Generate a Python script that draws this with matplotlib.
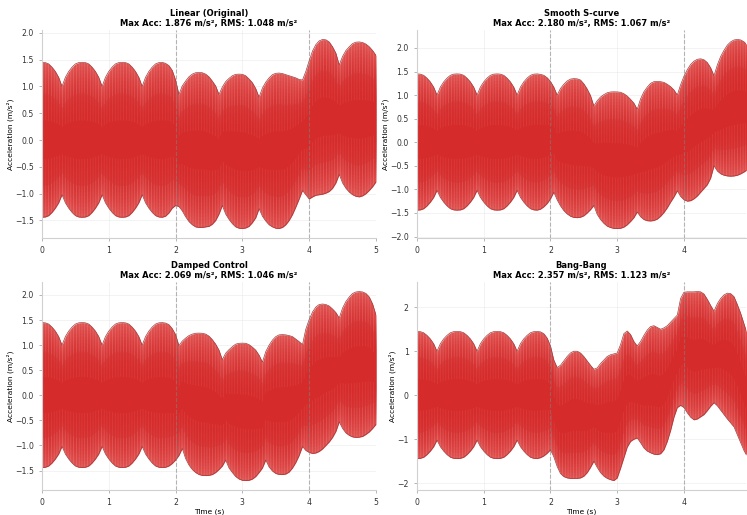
#!/usr/bin/env python3

import numpy as np
from matplotlib import pyplot as plt

# envelope of the acceleration signal (upper / lower bound), sampled every 0.05 s
# the first 1.8 s are the same for every profile
upper_start = [1.45, 1.445, 1.42, 1.36, 1.28, 1.17, 1.00, 1.17, 1.28, 1.36, 1.42, 1.445,
               1.45, 1.445, 1.42, 1.36, 1.28, 1.17, 1.00, 1.17, 1.28, 1.36, 1.42, 1.445,
               1.45, 1.445, 1.42, 1.36, 1.28, 1.17, 1.00, 1.17, 1.28, 1.36, 1.42, 1.445, 1.45]
lower_start = [-1.44, -1.435, -1.41, -1.35, -1.27, -1.17, -1.02, -1.17, -1.27, -1.35, -1.41, -1.435,
               -1.44, -1.435, -1.41, -1.35, -1.27, -1.17, -1.02, -1.17, -1.27, -1.35, -1.41, -1.435,
               -1.44, -1.435, -1.41, -1.35, -1.27, -1.17, -1.02, -1.17, -1.27, -1.35, -1.41, -1.435, -1.44]

# from 1.85 s on
linear_upper = [1.43, 1.39, 1.30, 1.12, 0.85,
                1.01, 1.10, 1.18, 1.23, 1.256, 1.26,
                1.256, 1.23, 1.18, 1.10, 1.01, 0.85,
                0.99, 1.09, 1.15, 1.20, 1.226, 1.23,
                1.226, 1.20, 1.14, 1.07, 0.96, 0.80,
                0.97, 1.08, 1.16, 1.22, 1.245, 1.25,
                1.24, 1.22, 1.20, 1.18, 1.16, 1.13, 1.12,
                1.28, 1.48, 1.66, 1.78, 1.85, 1.876,
                1.87, 1.83, 1.74, 1.62, 1.40,
                1.56, 1.67, 1.74, 1.80, 1.826, 1.83,
                1.82, 1.79, 1.74, 1.67, 1.58]
linear_lower = [-1.42, -1.36, -1.27, -1.22, -1.24,
                -1.32, -1.43, -1.52, -1.58, -1.62, -1.63,
                -1.63, -1.62, -1.61, -1.57, -1.50, -1.38, -1.22,
                -1.38, -1.48, -1.56, -1.62, -1.645, -1.65,
                -1.64, -1.61, -1.54, -1.45, -1.28,
                -1.42, -1.51, -1.58, -1.62, -1.645, -1.65,
                -1.63, -1.58, -1.50, -1.39, -1.25, -1.10, -0.94,
                -1.02, -1.10, -1.06, -1.03, -1.02, -1.01, -0.99, -0.96, -0.90, -0.80, -0.64,
                -0.80, -0.90, -0.97, -1.02, -1.05, -1.06,
                -1.04, -1.00, -0.94, -0.87, -0.78]

scurve_upper = [1.44, 1.42, 1.37, 1.29, 1.17, 1.00,
                1.14, 1.23, 1.30, 1.34, 1.35,
                1.345, 1.32, 1.24, 1.13, 0.99, 0.77,
                0.88, 0.96, 1.01, 1.05, 1.067, 1.07,
                1.068, 1.06, 1.03, 0.98, 0.91, 0.83, 0.70,
                0.92, 1.07, 1.17, 1.25, 1.285, 1.29,
                1.285, 1.27, 1.23, 1.18, 1.11, 1.00,
                1.22, 1.40, 1.54, 1.65, 1.72, 1.76, 1.77,
                1.75, 1.69, 1.58, 1.41,
                1.64, 1.82, 1.95, 2.06, 2.13, 2.17, 2.18,
                2.17, 2.13, 2.06]
scurve_lower = [-1.42, -1.37, -1.30, -1.20, -1.06,
                -1.22, -1.35, -1.45, -1.52, -1.57, -1.595, -1.60,
                -1.59, -1.56, -1.50, -1.43, -1.34,
                -1.53, -1.64, -1.72, -1.78, -1.81, -1.828, -1.83,
                -1.825, -1.80, -1.75, -1.68, -1.60, -1.48,
                -1.58, -1.64, -1.665, -1.67,
                -1.66, -1.63, -1.57, -1.49, -1.39, -1.27, -1.16, -1.03,
                -1.15, -1.22, -1.25,
                -1.24, -1.20, -1.14, -1.06, -0.98, -0.90, -0.76, -0.50,
                -0.61, -0.67, -0.70, -0.715, -0.72,
                -0.715, -0.70, -0.67, -0.63, -0.58]

damped_upper = [1.44, 1.41, 1.33, 1.21, 0.99,
                1.08, 1.14, 1.19, 1.22, 1.237, 1.24,
                1.237, 1.22, 1.18, 1.11, 1.02, 0.90, 0.71,
                0.84, 0.91, 0.97, 1.02, 1.037, 1.04,
                1.037, 1.01, 0.96, 0.90, 0.80, 0.66,
                0.87, 1.00, 1.10, 1.17, 1.205, 1.21,
                1.205, 1.19, 1.17, 1.12, 1.07, 1.01,
                1.32, 1.51, 1.66, 1.76, 1.81, 1.82,
                1.81, 1.78, 1.72, 1.65, 1.54,
                1.74, 1.87, 1.96, 2.03, 2.06, 2.069,
                2.06, 2.03, 1.96, 1.82, 1.60]
damped_lower = [-1.435, -1.41, -1.36, -1.29, -1.20, -1.06,
                -1.26, -1.39, -1.48, -1.54, -1.58, -1.597, -1.60,
                -1.597, -1.58, -1.54, -1.48, -1.41, -1.29,
                -1.45, -1.54, -1.62, -1.67, -1.695, -1.70,
                -1.695, -1.67, -1.62, -1.54, -1.45, -1.29,
                -1.43, -1.51, -1.56, -1.578, -1.58,
                -1.57, -1.53, -1.45, -1.34, -1.20, -1.02,
                -1.10, -1.14, -1.16, -1.15, -1.12, -1.07, -1.00, -0.93, -0.84, -0.72, -0.53,
                -0.66, -0.75, -0.80, -0.83, -0.84,
                -0.835, -0.82, -0.78, -0.73, -0.66, -0.58]

bang_upper = [1.44, 1.40, 1.30, 1.12, 0.80, 0.63,
              0.68, 0.78, 0.88, 0.96, 1.00, 1.00,
              0.96, 0.88, 0.78, 0.68, 0.59,
              0.62, 0.72, 0.80, 0.88, 0.92, 0.94, 0.96,
              1.15, 1.40, 1.46, 1.38, 1.22, 1.12,
              1.22, 1.36, 1.48, 1.56, 1.58, 1.54,
              1.50, 1.53, 1.58, 1.66, 1.74, 1.82,
              2.20, 2.34, 2.35, 2.35, 2.35, 2.357, 2.35,
              2.30, 2.18, 2.04, 1.91,
              2.08, 2.20, 2.28, 2.32, 2.31,
              2.24, 2.06, 1.86, 1.62, 1.38]
bang_lower = [-1.42, -1.38, -1.32, -1.24, -1.40, -1.62,
              -1.78, -1.85, -1.88, -1.89, -1.89, -1.89,
              -1.88, -1.84, -1.76, -1.64, -1.50,
              -1.64, -1.76, -1.84, -1.89, -1.92, -1.94,
              -1.88, -1.66, -1.42, -1.18, -1.05, -1.00, -0.97,
              -1.08, -1.20, -1.27, -1.31, -1.34, -1.35,
              -1.33, -1.24, -1.05, -0.80, -0.50, -0.28,
              -0.23, -0.28, -0.40, -0.50, -0.56, -0.54,
              -0.49, -0.44, -0.35, -0.25, -0.17,
              -0.24, -0.34, -0.44, -0.54, -0.63,
              -0.72, -0.90, -1.08, -1.26, -1.40]

titles = ['Linear (Original)', 'Smooth S-curve', 'Damped Control', 'Bang-Bang']
max_acc = [1.876, 2.180, 2.069, 2.357]
rms = [1.048, 1.067, 1.046, 1.123]
phase_marks = [2, 4]

t_long = np.round(np.arange(101) * 0.05, 2)   # 0 .. 5.0 s
t_short = np.round(np.arange(100) * 0.05, 2)  # 0 .. 4.95 s

RED = '#d62728'


def draw_band(ax, t, lo, hi):
    lo = np.array(lo)
    hi = np.array(hi)
    mid = (hi + lo) / 2
    half = (hi - lo) / 2
    ax.fill_between(t, lo, hi, color='#de514f', lw=0)
    # build up to solid red in the middle of the band
    for f in np.linspace(0.95, 0.35, 14):
        ax.fill_between(t, mid - f * half, mid + f * half, color=RED, alpha=0.12, lw=0)
    # thin light streaks, stronger towards the edges of the band
    for inner, alpha in ((0.25, 0.12), (0.6, 0.14)):
        for a, b in ((mid + inner * half, hi), (lo, mid - inner * half)):
            ax.fill_between(t, a, b, facecolor='none', edgecolor=(1, 0.8, 0.8, alpha),
                            hatch='||||||', lw=0)
    ax.plot(t, hi, color='#a33a3a', lw=0.5)
    ax.plot(t, lo, color='#a33a3a', lw=0.5)


plt.rcParams['hatch.linewidth'] = 0.5

fig = plt.figure(figsize=(7.47, 5.15), dpi=100)
boxes = [[0.0562, 0.5379, 0.4471, 0.4038],
         [0.5582, 0.5379, 0.4405, 0.4038],
         [0.0562, 0.0485, 0.4471, 0.4038],
         [0.5582, 0.0485, 0.4405, 0.4038]]

series = [(t_long, lower_start + linear_lower, upper_start + linear_upper),
          (t_short, lower_start + scurve_lower, upper_start + scurve_upper),
          (t_long, lower_start + damped_lower, upper_start + damped_upper),
          (t_short, lower_start + bang_lower, upper_start + bang_upper)]

for i, (t, lo, hi) in enumerate(series):
    ax = fig.add_axes(boxes[i])
    draw_band(ax, t, lo, hi)
    full = len(t) == len(t_long)
    ax.set_xlim(0, 5 if full else 4.93)
    ax.set_xticks([0, 1, 2, 3, 4, 5] if full else [0, 1, 2, 3, 4])
    for x in phase_marks:
        ax.axvline(x, color='gray', ls='--', lw=0.8, alpha=0.55)
    ax.grid(True, color='#dddddd', lw=0.5, alpha=0.5)
    ax.set_axisbelow(True)
    for side in ('top', 'right'):
        ax.spines[side].set_visible(False)
    for side in ('left', 'bottom'):
        ax.spines[side].set_color('#d0d0d0')
        ax.spines[side].set_linewidth(0.8)
    ax.tick_params(labelsize=5.6, colors='#333333', length=2.5, width=0.6)
    ax.tick_params(color='#aaaaaa')
    ax.set_ylabel('Acceleration (m/s²)', fontsize=5.4, labelpad=0.5)
    if i >= 2:
        ax.set_xlabel('Time (s)', fontsize=5.4, labelpad=0.5)
    ax.set_title('{}\nMax Acc: {:.3f} m/s², RMS: {:.3f} m/s²'.format(titles[i], max_acc[i], rms[i]),
                 fontsize=6, fontweight='bold', pad=3, linespacing=1.1)

fig.savefig('out.png', dpi=100)
